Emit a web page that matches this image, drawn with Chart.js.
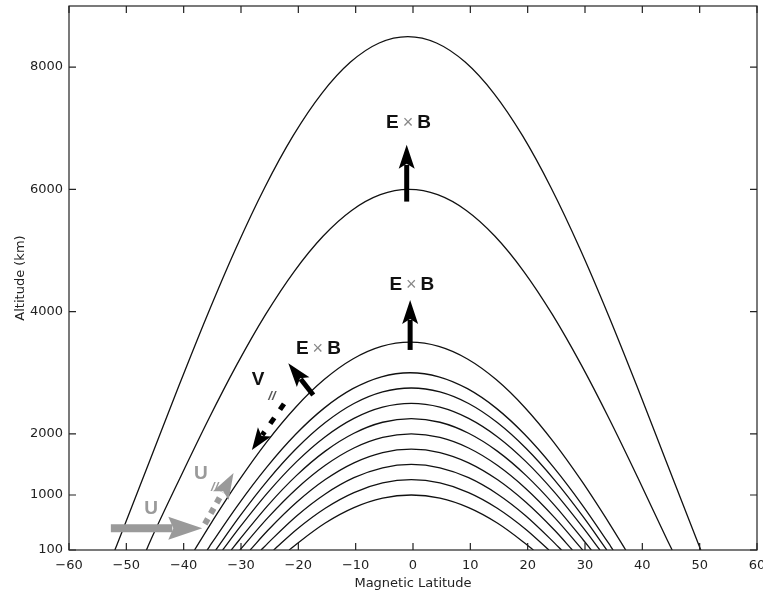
<!DOCTYPE html>
<html><head><meta charset="utf-8">
<script src="https://cdn.jsdelivr.net/npm/chart.js@4/dist/chart.umd.min.js"></script>
<style>html,body{margin:0;padding:0;background:#fff;}canvas{display:block;}</style>
</head><body>
<canvas id="c" width="763" height="591"></canvas>
<script>
// Field lines: latitude (deg) and altitude (km)
const lat8500 = [-52.0, -50.9, -45.9, -40.9, -35.9, -30.9, -25.9, -20.9, -15.9, -10.9, -5.9, -0.9, 4.1, 9.1, 14.1, 19.1, 24.1, 29.1, 34.1, 39.1, 44.1, 49.1, 50.2];
const alt8500 = [100, 361, 1566, 2770, 3937, 5033, 6023, 6878, 7571, 8082, 8395, 8500, 8395, 8082, 7571, 6878, 6023, 5033, 3937, 2770, 1566, 361, 100];
const lat6000 = [-46.5, -45.7, -40.7, -35.7, -30.7, -25.7, -20.7, -15.7, -10.7, -5.7, -0.7, 4.3, 9.3, 14.3, 19.3, 24.3, 29.3, 34.3, 39.3, 44.3, 45.2];
const alt6000 = [100, 272, 1266, 2231, 3136, 3954, 4660, 5233, 5655, 5913, 6000, 5913, 5655, 5233, 4660, 3954, 3136, 2231, 1266, 272, 100];
const lat3500 = [-38.1, -35.5, -30.5, -25.5, -20.5, -15.5, -10.5, -5.5, -0.5, 4.5, 9.5, 14.5, 19.5, 24.5, 29.5, 34.5, 37.1];
const alt3500 = [100, 496, 1217, 1869, 2432, 2888, 3225, 3431, 3500, 3431, 3225, 2888, 2432, 1869, 1217, 496, 100];
const lat3000 = [-35.9, -35.5, -30.5, -25.5, -20.5, -15.5, -10.5, -5.5, -0.5, 4.5, 9.5, 14.5, 19.5, 24.5, 29.5, 34.5, 34.9];
const alt3000 = [100, 157, 840, 1456, 1989, 2421, 2739, 2934, 3000, 2934, 2739, 2421, 1989, 1456, 840, 157, 100];
const lat2750 = [-34.4, -30.3, -25.3, -20.3, -15.3, -10.3, -5.3, -0.3, 4.7, 9.7, 14.7, 19.7, 24.7, 29.7, 33.8];
const alt2750 = [100, 642, 1244, 1764, 2185, 2496, 2686, 2750, 2686, 2496, 2185, 1764, 1244, 642, 100];
const lat2500 = [-33.2, -30.3, -25.3, -20.3, -15.3, -10.3, -5.3, -0.3, 4.7, 9.7, 14.7, 19.7, 24.7, 29.7, 32.6];
const alt2500 = [100, 461, 1043, 1546, 1954, 2254, 2438, 2500, 2438, 2254, 1954, 1546, 1043, 461, 100];
const lat2250 = [-31.7, -30.3, -25.3, -20.3, -15.3, -10.3, -5.3, -0.3, 4.7, 9.7, 14.7, 19.7, 24.7, 29.7, 31.1];
const alt2250 = [100, 264, 831, 1321, 1718, 2010, 2190, 2250, 2190, 2010, 1718, 1321, 831, 264, 100];
const lat2000 = [-30.2, -25.3, -20.3, -15.3, -10.3, -5.3, -0.3, 4.7, 9.7, 14.7, 19.7, 24.7, 29.6];
const alt2000 = [100, 630, 1103, 1486, 1769, 1942, 2000, 1942, 1769, 1486, 1103, 630, 100];
const lat1750 = [-28.4, -25.3, -20.3, -15.3, -10.3, -5.3, -0.3, 4.7, 9.7, 14.7, 19.7, 24.7, 27.8];
const alt1750 = [100, 422, 880, 1252, 1526, 1694, 1750, 1694, 1526, 1252, 880, 422, 100];
const lat1500 = [-26.5, -25.3, -20.3, -15.3, -10.3, -5.3, -0.3, 4.7, 9.7, 14.7, 19.7, 24.7, 25.9];
const alt1500 = [100, 213, 657, 1017, 1283, 1445, 1500, 1445, 1283, 1017, 657, 213, 100];
const lat1250 = [-24.3, -20.3, -15.3, -10.3, -5.3, -0.3, 4.7, 9.7, 14.7, 19.7, 23.7];
const alt1250 = [100, 437, 784, 1040, 1197, 1250, 1197, 1040, 784, 437, 100];
const lat1000 = [-21.6, -20.3, -15.3, -10.3, -5.3, -0.3, 4.7, 9.7, 14.7, 19.7, 21.0];
const alt1000 = [100, 199, 541, 793, 948, 1000, 948, 793, 541, 199, 100];

const yTickValues = [100, 1000, 2000, 4000, 6000, 8000];
const xTickStep = 10;

// Annotation anchors (data units: latitude, altitude)
const exbLabels = [[-0.8, 7084], [-0.2, 4437], [-16.5, 3385]];
const exbArrows = [[-1.1, 5800, -1.1, 6728], [-0.5, 3373, -0.5, 4192], [-17.4, 2637, -21.75, 3156]];
const vParArrow = [-22.5, 2490, -28.1, 1737];
const vParLabel = [-27.0, 2882, -24.6, 2620];
const uArrow = [-52.7, 455, -36.75, 455];
const uLabel = [-45.7, 782];
const uParArrow = [-36.3, 526, -31.3, 1360];
const uParLabel = [-37.0, 1344, -34.6, 1130];

const curves = [[lat8500, alt8500], [lat6000, alt6000], [lat3500, alt3500], [lat3000, alt3000], [lat2750, alt2750], [lat2500, alt2500], [lat2250, alt2250], [lat2000, alt2000], [lat1750, alt1750], [lat1500, alt1500], [lat1250, alt1250], [lat1000, alt1000]];

const datasets = curves.map(([la, al]) => ({
  data: la.map((v, i) => ({x: v, y: al[i]})),
  showLine: true, borderColor: '#111', borderWidth: 1.3, pointRadius: 0,
  cubicInterpolationMode: 'monotone', fill: false
}));

function arrow(ctx, x1, y1, x2, y2, o) {
  const dx = x2 - x1, dy = y2 - y1, L = Math.hypot(dx, dy);
  const ux = dx / L, uy = dy / L, nx = -uy, ny = ux;
  const bx = x2 - ux * o.head, by = y2 - uy * o.head;
  ctx.strokeStyle = o.color; ctx.fillStyle = o.color;
  ctx.lineWidth = o.shaft; ctx.lineCap = 'butt';
  ctx.setLineDash(o.dash || []);
  ctx.beginPath(); ctx.moveTo(x1, y1); ctx.lineTo(bx + ux * 2, by + uy * 2); ctx.stroke();
  ctx.setLineDash([]);
  ctx.beginPath();
  ctx.moveTo(x2, y2);
  ctx.lineTo(bx + nx * o.hw / 2 - ux * 2, by + ny * o.hw / 2 - uy * 2);
  ctx.lineTo(bx + ux * 3, by + uy * 3);
  ctx.lineTo(bx - nx * o.hw / 2 - ux * 2, by - ny * o.hw / 2 - uy * 2);
  ctx.closePath(); ctx.fill();
}

function drawExB(ctx, cx, cy) {
  const bold = 'bold 19px "Liberation Sans", Arial, sans-serif';
  const thin = '18px "Liberation Sans", Arial, sans-serif';
  ctx.font = bold; const wE = ctx.measureText('E').width, wB = ctx.measureText('B').width;
  ctx.font = thin; const wX = ctx.measureText('\u00d7').width;
  const gap = 4, total = wE + wX + wB + 2 * gap;
  let x = cx - total / 2;
  ctx.textBaseline = 'middle'; ctx.textAlign = 'left';
  ctx.font = bold; ctx.fillStyle = '#111'; ctx.fillText('E', x, cy); x += wE + gap;
  ctx.font = thin; ctx.fillStyle = '#888'; ctx.fillText('\u00d7', x, cy); x += wX + gap;
  ctx.font = bold; ctx.fillStyle = '#111'; ctx.fillText('B', x, cy);
}

const frameAndNotes = {
  id: 'frameAndNotes',
  afterDatasetsDraw(chart) {
    const {ctx, chartArea: a, scales: {x, y}} = chart;
    const px = v => x.getPixelForValue(v), py = v => y.getPixelForValue(v);
    ctx.save();
    ctx.strokeStyle = '#222'; ctx.lineWidth = 1.2;
    ctx.strokeRect(a.left, a.top, a.right - a.left, a.bottom - a.top);
    ctx.beginPath();
    x.ticks.forEach(t => { const p = px(t.value); ctx.moveTo(p, a.bottom); ctx.lineTo(p, a.bottom - 7); ctx.moveTo(p, a.top); ctx.lineTo(p, a.top + 7); });
    y.ticks.forEach(t => { const p = py(t.value); ctx.moveTo(a.left, p); ctx.lineTo(a.left + 7, p); ctx.moveTo(a.right, p); ctx.lineTo(a.right - 7, p); });
    ctx.stroke();

    exbArrows.forEach(([x1, y1, x2, y2]) => arrow(ctx, px(x1), py(y1), px(x2), py(y2), {color: '#000', shaft: 5, head: 22, hw: 16}));
    exbLabels.forEach(([lx, ly]) => drawExB(ctx, px(lx), py(ly)));

    arrow(ctx, px(vParArrow[0]), py(vParArrow[1]), px(vParArrow[2]), py(vParArrow[3]), {color: '#000', shaft: 5, head: 20, hw: 16, dash: [7, 10]});
    ctx.textBaseline = 'middle'; ctx.textAlign = 'center';
    ctx.font = 'bold 19px "Liberation Sans", Arial, sans-serif'; ctx.fillStyle = '#111';
    ctx.fillText('V', px(vParLabel[0]), py(vParLabel[1]));
    ctx.font = 'italic bold 13px "Liberation Sans", Arial, sans-serif'; ctx.fillStyle = '#555';
    ctx.fillText('//', px(vParLabel[2]), py(vParLabel[3]));

    arrow(ctx, px(uArrow[0]), py(uArrow[1]), px(uArrow[2]), py(uArrow[3]), {color: '#9a9a9a', shaft: 8, head: 32, hw: 23});
    ctx.font = 'bold 19px "Liberation Sans", Arial, sans-serif'; ctx.fillStyle = '#9a9a9a';
    ctx.fillText('U', px(uLabel[0]), py(uLabel[1]));

    arrow(ctx, px(uParArrow[0]), py(uParArrow[1]), px(uParArrow[2]), py(uParArrow[3]), {color: '#9a9a9a', shaft: 6, head: 24, hw: 18, dash: [6, 6]});
    ctx.font = 'bold 19px "Liberation Sans", Arial, sans-serif'; ctx.fillStyle = '#9a9a9a';
    ctx.fillText('U', px(uParLabel[0]), py(uParLabel[1]));
    ctx.font = 'italic bold 13px "Liberation Sans", Arial, sans-serif';
    ctx.fillText('//', px(uParLabel[2]), py(uParLabel[3]));
    ctx.restore();
  }
};

Chart.defaults.font.family = '"DejaVu Sans", sans-serif';
new Chart(document.getElementById('c'), {
  type: 'scatter',
  data: {datasets},
  options: {
    responsive: false, animation: false, devicePixelRatio: 1,
    layout: {padding: {top: 6, right: 6, left: 0, bottom: 0}},
    plugins: {legend: {display: false}, tooltip: {enabled: false}},
    scales: {
      x: {
        type: 'linear', min: -60, max: 60,
        grid: {display: false, drawTicks: false}, border: {display: false},
        ticks: {stepSize: xTickStep, padding: 8, color: '#222', font: {size: 13}, maxRotation: 0, autoSkip: false,
                callback: v => String(v).replace('-', '\u2212')},
        title: {display: true, text: 'Magnetic Latitude', color: '#222', font: {size: 13}, padding: {top: 0, bottom: 0}},
        afterFit(s) { s.height = 41; s.paddingLeft = 0; s.paddingRight = 0; }
      },
      y: {
        type: 'linear', min: 100, max: 9000,
        afterBuildTicks(s) { s.ticks = yTickValues.map(v => ({value: v})); },
        grid: {display: false, drawTicks: false}, border: {display: false},
        ticks: {padding: 6, color: '#222', font: {size: 13}, autoSkip: false, callback: v => String(v)},
        title: {display: true, text: 'Altitude (km)', color: '#222', font: {size: 13}, padding: {top: 13, bottom: 0}},
        afterFit(s) { s.width = 69; s.paddingTop = 0; s.paddingBottom = 0; }
      }
    }
  },
  plugins: [frameAndNotes]
});
</script>
</body></html>
